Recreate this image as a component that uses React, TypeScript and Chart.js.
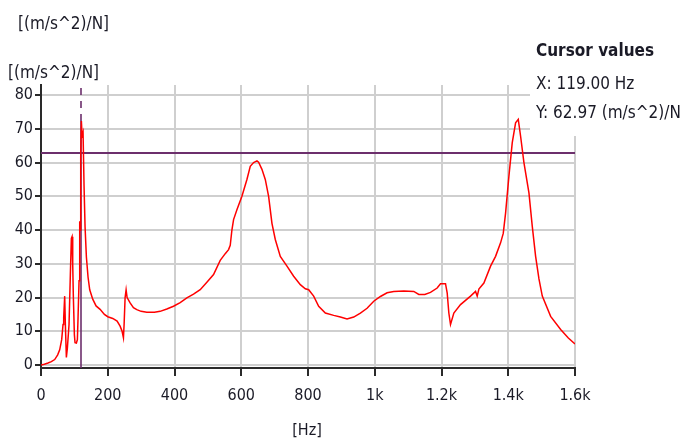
import React, { useEffect, useRef } from "react";
import { Chart, registerables } from "chart.js";

Chart.register(...registerables);

// ---- data ----
const freqHz = [
  0, 10, 21, 31, 41, 50, 56, 62, 66, 68, 71, 73, 76, 79, 84, 88, 91, 93, 95, 97,
  100, 102, 106, 109, 111, 114, 116, 117, 119, 121, 123, 126, 129, 132, 136, 141, 146, 155, 165, 177,
  190, 200, 215, 228, 237, 243, 247, 249, 252, 255, 258, 267, 277, 287, 300, 317, 340, 357, 377, 397,
  417, 437, 457, 477, 497, 517, 537, 552, 562, 567, 572, 577, 587, 602, 617, 627, 637, 647, 652, 662,
  672, 682, 692, 702, 717, 737, 757, 777, 792, 802, 817, 832, 852, 877, 897, 917, 937, 957, 977, 997,
  1017, 1037, 1057, 1087, 1117, 1132, 1150, 1167, 1187, 1197, 1212, 1217, 1222, 1227, 1237, 1257, 1287, 1302, 1307, 1312,
  1327, 1347, 1362, 1377, 1385, 1392, 1402, 1412, 1422, 1430, 1437, 1447, 1462, 1472, 1482, 1492, 1502, 1527, 1557, 1580,
  1600,
];
const amplitude = [
  0, 0.2, 0.6, 1.0, 1.6, 3.0, 4.5, 7.5, 12, 14, 20.4, 12, 2.2, 5, 12, 27, 37.5, 38, 30, 20,
  9, 6.6, 6.5, 7.5, 14, 25, 42.6, 40, 62, 72.3, 68, 69, 53, 41, 32, 26, 22.3, 19.5, 17.5, 16.5,
  15, 14.3, 13.8, 13, 11.5, 10, 8.1, 12, 20, 22.3, 20, 18.4, 17, 16.4, 15.9, 15.6, 15.6, 15.9, 16.6, 17.4,
  18.5, 19.9, 21, 22.3, 24.5, 26.8, 31, 33, 34.2, 35.5, 40, 43.1, 46, 50, 55, 58.9, 60, 60.5, 60.1, 58,
  55, 50, 42, 37.2, 32.2, 29.3, 26.3, 23.8, 22.6, 22.3, 20.4, 17.4, 15.4, 14.7, 14.2, 13.6, 14.2, 15.4, 16.8, 18.9,
  20.3, 21.4, 21.8, 21.9, 21.8, 20.9, 20.9, 21.5, 22.8, 24.1, 24.1, 21.4, 15.4, 12, 15.4, 17.9, 20.4, 21.8, 20.4, 22.5,
  24.3, 29.3, 32.2, 36.2, 39, 45, 56, 65.9, 71.8, 72.8, 67.8, 60, 51, 41.1, 32.2, 25.5, 20.4, 14.4, 10.5, 8,
  6.2,
];
const xTicks = [0, 200, 400, 600, 800, 1000, 1200, 1400, 1600];
const xTickLabels = ["0", "200", "400", "600", "800", "1k", "1.2k", "1.4k", "1.6k"];
const yTicks = [0, 10, 20, 30, 40, 50, 60, 70, 80];
const cursorX = 119;
const cursorY = 62.97;
const cursorPeak = 72.3;
const unitLabel = "[(m/s^2)/N]";
const xAxisLabel = "[Hz]";
const cursorTitle = "Cursor values";
const cursorXText = "X: 119.00 Hz";
const cursorYText = "Y: 62.97 (m/s^2)/N";

const FAMILY = '"DejaVu Sans Condensed", "DejaVu Sans", sans-serif';
const PURPLE = "#6c2f6c";
const TEXT = "#1a1a26";

const overlay = {
  id: "overlay",
  beforeDatasetsDraw(chart: any) {
    const { ctx, chartArea, scales } = chart;
    const x = scales.x;
    const y = scales.y;
    ctx.save();
    ctx.strokeStyle = PURPLE;
    ctx.lineWidth = 2;
    const cy = Math.round(y.getPixelForValue(cursorY));
    ctx.beginPath();
    ctx.moveTo(chartArea.left, cy);
    ctx.lineTo(chartArea.right, cy);
    ctx.stroke();
    const cx = Math.round(x.getPixelForValue(cursorX));
    const py = y.getPixelForValue(cursorPeak);
    ctx.lineWidth = 1.6;
    ctx.beginPath();
    ctx.moveTo(cx, chartArea.bottom);
    ctx.lineTo(cx, py);
    ctx.stroke();
    ctx.setLineDash([7, 6]);
    ctx.beginPath();
    ctx.moveTo(cx, py);
    ctx.lineTo(cx, chartArea.top);
    ctx.stroke();
    ctx.restore();
  },
  afterDraw(chart: any) {
    const { ctx } = chart;
    ctx.save();
    ctx.fillStyle = "#ffffff";
    ctx.fillRect(530, 28, 155, 108);
    ctx.fillStyle = TEXT;
    ctx.textAlign = "left";
    ctx.textBaseline = "alphabetic";
    ctx.font = `bold 17px ${FAMILY}`;
    ctx.fillText(cursorTitle, 536, 56);
    ctx.font = `17px ${FAMILY}`;
    ctx.fillText(cursorXText, 536, 89);
    ctx.fillText(cursorYText, 536, 118);
    // unit labels
    ctx.fillText(unitLabel, 18, 29);
    ctx.fillText(unitLabel, 8, 78);
    ctx.font = `16px ${FAMILY}`;
    ctx.textAlign = "center";
    ctx.fillText(xAxisLabel, 307, 435);
    ctx.restore();
  },
};

export default function App() {
  const ref = useRef<HTMLCanvasElement | null>(null);
  useEffect(() => {
    const canvas = ref.current;
    if (!canvas) return;
    const data = freqHz.map((f, i) => ({ x: f, y: amplitude[i] }));
    const chart = new Chart(canvas, {
      type: "line",
      data: {
        datasets: [
          {
            data,
            borderColor: "#ff0000",
            borderWidth: 1.5,
            pointRadius: 0,
            tension: 0,
            fill: false,
          },
        ],
      },
      options: {
        animation: false,
        responsive: false,
        events: [],
        layout: { padding: { left: 0, top: 85, right: 110, bottom: 0 } },
        plugins: { legend: { display: false }, tooltip: { enabled: false }, title: { display: false } },
        scales: {
          x: {
            type: "linear",
            min: 0,
            max: 1600,
            afterBuildTicks: (s: any) => {
              s.ticks = xTicks.map((v) => ({ value: v }));
            },
            afterFit: (s: any) => {
              s.height = 74;
            },
            ticks: {
              autoSkip: false,
              maxRotation: 0,
              padding: 10,
              color: TEXT,
              font: { family: FAMILY, size: 16 },
              callback: (v: any) => {
                const i = xTicks.indexOf(Number(v));
                return i >= 0 ? xTickLabels[i] : "";
              },
            },
            grid: { color: "#cfcfcf", lineWidth: 2, tickColor: "#2a2a2a", tickLength: 8, tickWidth: 2 },
            border: { color: "#2a2a2a", width: 2 },
          },
          y: {
            type: "linear",
            min: -0.9,
            max: 83,
            afterBuildTicks: (s: any) => {
              s.ticks = yTicks.map((v) => ({ value: v }));
            },
            afterFit: (s: any) => {
              s.width = 41;
            },
            ticks: {
              autoSkip: false,
              padding: 2,
              color: TEXT,
              font: { family: FAMILY, size: 16 },
            },
            grid: { color: "#cfcfcf", lineWidth: 2, tickColor: "#2a2a2a", tickLength: 6, tickWidth: 2 },
            border: { color: "#2a2a2a", width: 2 },
          },
        },
      },
      plugins: [overlay],
    });
    return () => chart.destroy();
  }, []);
  return (
    <div style={{ position: "fixed", left: 0, top: 0, width: 685, height: 442, background: "#ffffff" }}>
      <canvas ref={ref} width={685} height={442} style={{ display: "block" }} />
    </div>
  );
}
